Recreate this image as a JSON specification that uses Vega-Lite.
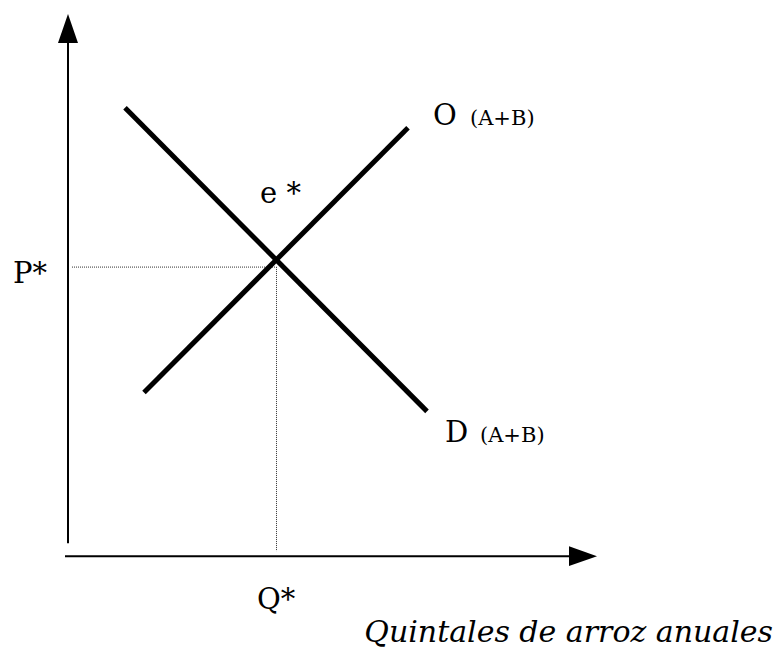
{
  "$schema": "https://vega.github.io/schema/vega-lite/v6.json",
  "width": 779,
  "height": 648,
  "autosize": {"type": "fit", "contains": "padding"},
  "padding": 0,
  "background": "white",
  "config": {"view": {"stroke": null}},
  "datasets": {
    "curves": [
      {"curve": "D (A+B)", "q": 5.7, "p": 44.9},
      {"curve": "D (A+B)", "q": 35.9, "p": 14.5},
      {"curve": "O (A+B)", "q": 7.6, "p": 16.4},
      {"curve": "O (A+B)", "q": 34.0, "p": 42.9}
    ],
    "axes": [
      {"axis": "P", "q": 0, "p": 1.3, "q2": 0, "p2": 51.4},
      {"axis": "Q", "q": -0.3, "p": 0, "q2": 50.1, "p2": 0}
    ],
    "guides": [
      {"guide": "P*", "q": 0.4, "p": 28.95, "q2": 20.85, "p2": 28.95},
      {"guide": "Q*", "q": 20.85, "p": 28.95, "q2": 20.85, "p2": 0.5}
    ],
    "arrowUp": [{"q": 0, "p": 52.85}],
    "arrowRight": [{"q": 51.5, "p": 0}],
    "mainLabels": [
      {"label": "P*", "q": -5.5, "p": 27.4},
      {"label": "Q*", "q": 18.9, "p": -5.3},
      {"label": "e *", "q": 19.2, "p": 35.4},
      {"label": "O", "q": 36.5, "p": 43.2},
      {"label": "D", "q": 37.7, "p": 11.4}
    ],
    "subLabels": [
      {"label": "(A+B)", "q": 40.2, "p": 43.2},
      {"label": "(A+B)", "q": 41.2, "p": 11.4}
    ],
    "title": [{"label": "Quintales de arroz anuales", "q": 70.5, "p": -8.6}]
  },
  "encoding": {
    "x": {"field": "q", "type": "quantitative", "scale": {"domain": [-6.8, 71.1], "nice": false, "zero": false}, "axis": null},
    "y": {"field": "p", "type": "quantitative", "scale": {"domain": [-9.1, 55.7], "nice": false, "zero": false}, "axis": null}
  },
  "layer": [
    {
      "data": {"name": "guides"},
      "mark": {"type": "rule", "color": "#333333", "strokeWidth": 1, "strokeDash": [1, 1]},
      "encoding": {"x2": {"field": "q2"}, "y2": {"field": "p2"}}
    },
    {
      "data": {"name": "axes"},
      "mark": {"type": "rule", "color": "black", "strokeWidth": 2},
      "encoding": {"x2": {"field": "q2"}, "y2": {"field": "p2"}}
    },
    {
      "data": {"name": "curves"},
      "mark": {"type": "line", "color": "black", "strokeWidth": 5, "strokeCap": "butt"},
      "encoding": {"detail": {"field": "curve"}}
    },
    {
      "data": {"name": "arrowUp"},
      "mark": {"type": "point", "shape": "M0,-1L0.69,1L-0.69,1Z", "filled": true, "color": "black", "opacity": 1, "size": 841, "strokeWidth": 0}
    },
    {
      "data": {"name": "arrowRight"},
      "mark": {"type": "point", "shape": "M1,0L-1,-0.7L-1,0.7Z", "filled": true, "color": "black", "opacity": 1, "size": 784, "strokeWidth": 0}
    },
    {
      "data": {"name": "mainLabels"},
      "mark": {"type": "text", "align": "left", "baseline": "alphabetic", "font": "DejaVu Serif", "fontSize": 29, "color": "black"},
      "encoding": {"text": {"field": "label"}}
    },
    {
      "data": {"name": "subLabels"},
      "mark": {"type": "text", "align": "left", "baseline": "alphabetic", "font": "DejaVu Serif", "fontSize": 21, "color": "black"},
      "encoding": {"text": {"field": "label"}}
    },
    {
      "data": {"name": "title"},
      "mark": {"type": "text", "align": "right", "baseline": "alphabetic", "font": "DejaVu Serif", "fontStyle": "italic", "fontSize": 30, "color": "black"},
      "encoding": {"text": {"field": "label"}}
    }
  ]
}
